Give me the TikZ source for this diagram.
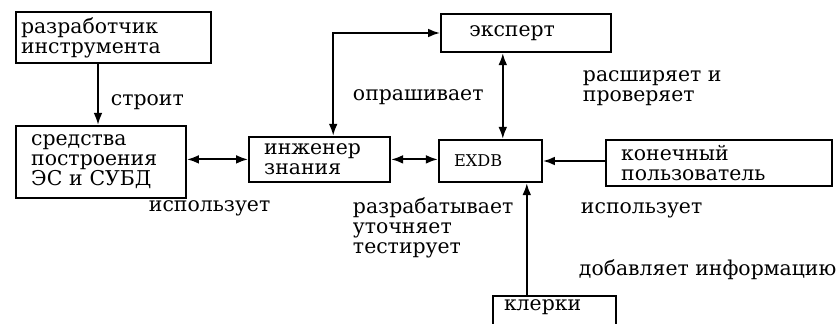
\documentclass[tikz,border=0pt]{standalone}
\usepackage{fontspec}
\newfontfamily\mashinka{DejaVu Serif}
\usetikzlibrary{arrows.meta}

\begin{document}
\begin{tikzpicture}[font=\mashinka\fontsize{14.5pt}{14.2pt}\selectfont]

        % Area del disegno (838x323 px, 40 px = 1 cm)
        \useasboundingbox (0,0) rectangle (20.95, 8.075);

        % Stili globali
        \tikzstyle{every path}=[line width=1.4pt]
        \tikzstyle{blocco}=[draw, line width=1.6pt, align=left, inner xsep=0.375cm, inner ysep=0pt]
        \tikzstyle{etichetta}=[anchor=west, inner sep=0pt, align=left]
        \tikzstyle{freccia}=[-{Latex[length=0.3cm,width=0.22cm]}]
        \tikzstyle{doppia}=[{Latex[length=0.3cm,width=0.22cm]}-{Latex[length=0.3cm,width=0.22cm]}]

        % Blocchi
        \node[blocco, inner xsep=0.12cm, text width=4.63cm, minimum height=1.275cm] (razrab) at (2.84, 7.14) {разработчик\\инструмента};
        \node[blocco, text width=3.49cm, minimum height=1.8cm] (sredstva) at (2.525, 4.025) {средства\\построения\\ЭС и СУБД};
        \node[blocco, text width=2.77cm, minimum height=1.125cm] (inzhener) at (7.99, 4.09) {инженер\\знания};
        \node[blocco, text width=1.82cm, minimum height=1.05cm, font=\mashinka\fontsize{11.5pt}{12pt}\selectfont] (exdb) at (12.26, 4.05) {EXDB};
        \node[blocco, text width=3.49cm, minimum height=0.95cm] (ekspert) at (13.15, 7.25) {\hspace*{0.33cm}эксперт};
        \node[blocco, text width=4.89cm, minimum height=1.15cm] (konechny) at (17.975, 4.0) {конечный\\пользователь};
        \node[blocco, inner xsep=0.275cm, inner ysep=0.09cm, text width=2.52cm, text depth=0.9cm, anchor=north] (klerki) at (13.86, 0.7) {клерки};

        % Etichette delle relazioni
        \node[etichetta] (stroit) at (2.75, 5.525) {строит};
        \node[etichetta] (ispolz1) at (3.7, 2.875) {использует};
        \node[etichetta] (oprash) at (8.8, 5.65) {опрашивает};
        \node[etichetta] (rasshir) at (14.55, 5.875) {расширяет и\\проверяет};
        \node[etichetta] (razrabat) at (8.8, 2.375) {разрабатывает\\уточняет\\тестирует};
        \node[etichetta] (ispolz2) at (14.5, 2.825) {использует};
        \node[etichetta] (dobavl) at (14.45, 1.325) {добавляет информацию};

        % Collegamenti
        \draw[freccia] ([xshift=-0.39cm]razrab.south) -- ([xshift=-0.39cm]razrab.south |- sredstva.north);
        \draw[doppia] (inzhener.west -| sredstva.east) -- (inzhener.west);
        \draw[doppia] (inzhener.east) -- (inzhener.east -| exdb.west);
        \draw[doppia] (ekspert.west) -| ([xshift=0.34cm]inzhener.north);
        \draw[doppia] ([xshift=0.31cm]exdb.north) -- ([xshift=0.31cm]exdb.north |- ekspert.south);
        \draw[freccia] (exdb.east -| konechny.west) -- (exdb.east);
        \draw[freccia] ([xshift=0.91cm]exdb.south |- klerki.north) -- ([xshift=0.91cm]exdb.south);

    \end{tikzpicture}
\end{document}
